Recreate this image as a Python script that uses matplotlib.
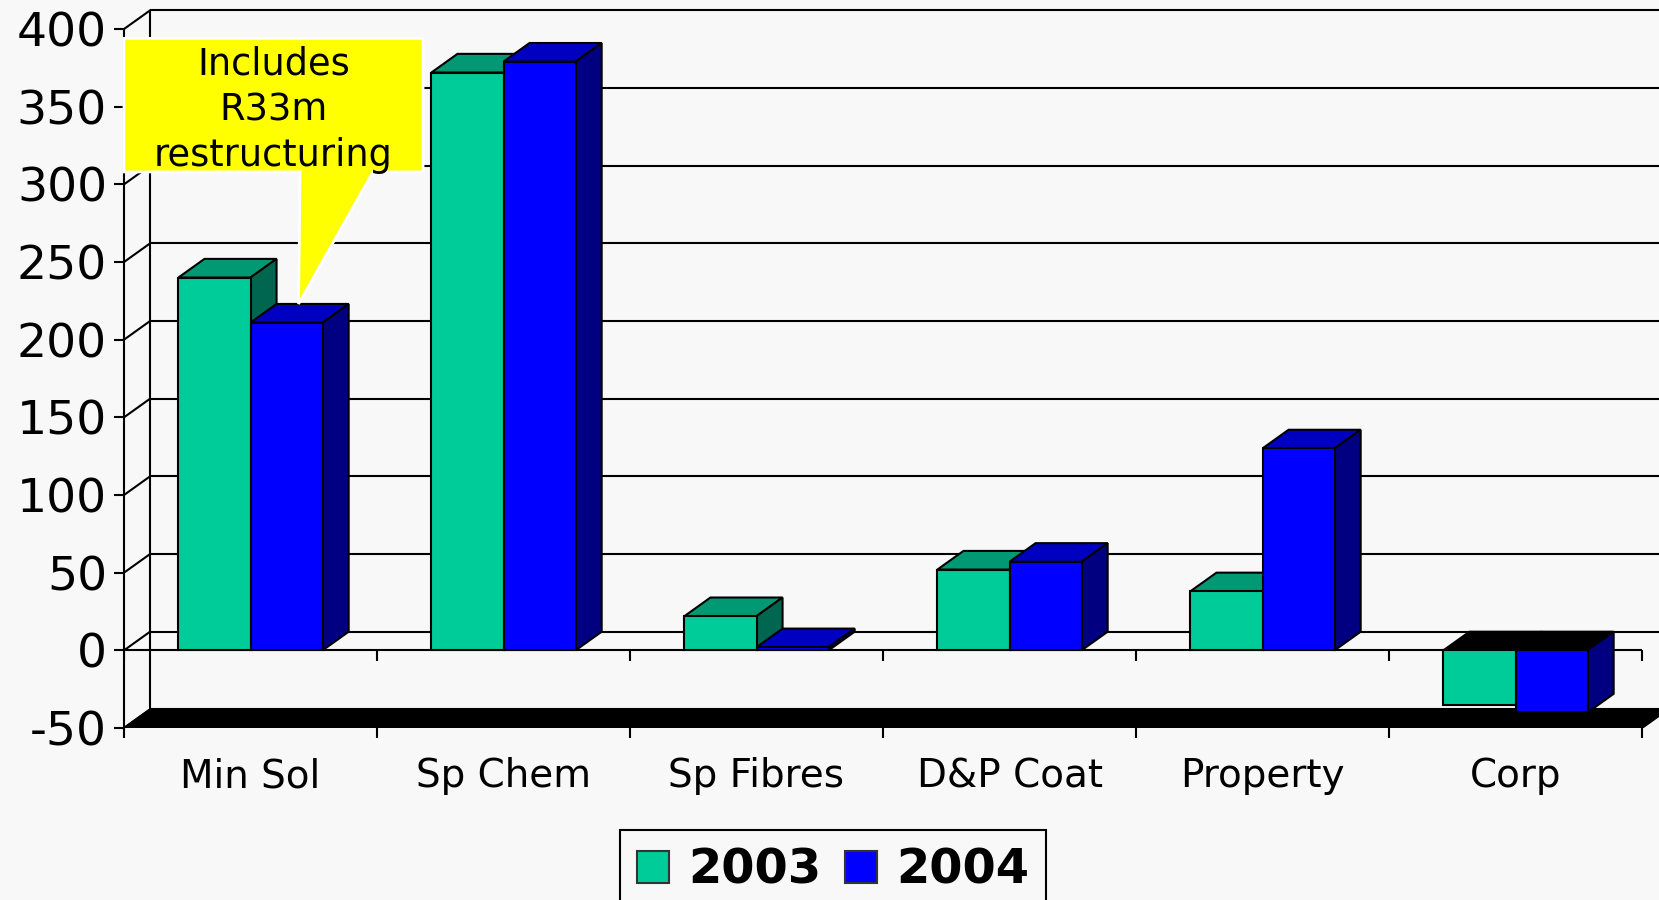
import matplotlib.pyplot as plt
import numpy as np
from matplotlib.patches import Polygon, Patch

plt.rcParams['axes.unicode_minus'] = False

# Data
cats = ['Min Sol', 'Sp Chem', 'Sp Fibres', 'D&P Coat', 'Property', 'Corp']
v2003 = [240, 372, 22, 52, 38, -35]
v2004 = [211, 379, 2, 57, 130, -40]
years = ['2003', '2004']
yticks = list(range(-50, 401, 50))
note = 'Includes\nR33m\nrestructuring'

# colours: front, top, side
c2003 = ('#00CC99', '#009973', '#006650')
c2004 = ('#0000FF', '#0000C0', '#000080')
bg = '#F8F8F8'

# depth of the fake 3D box, in data units
DX = 0.103
DY = 12
lw = 1.5

fig = plt.figure(figsize=(16.59, 9), dpi=100, facecolor=bg)
ax = fig.add_axes([124 / 1659, 172 / 900, 1535 / 1659, 726 / 900])
ax.set_facecolor(bg)
ax.set_xlim(-0.5, -0.5 + 1535 / 253)
ax.set_ylim(-50, -50 + 726 / 1.5533)

x = np.arange(len(cats))
bounds = np.arange(-0.5, len(cats), 1)
w = 0.285

# back wall, side wall and floor
for v in yticks:
    ax.plot([-0.5, -0.5 + DX], [v, v + DY], color='black', lw=lw, zorder=1)
    ax.hlines(v + DY, -0.5 + DX, 5.5 + DX, color='black', lw=lw, zorder=1)
ax.vlines(-0.5 + DX, yticks[0] + DY, yticks[-1] + DY, color='black', lw=lw, zorder=1)
ax.add_patch(Polygon([(-0.5, -50), (5.5, -50), (5.5 + DX, -50 + DY), (-0.5 + DX, -50 + DY)],
                     closed=True, fc='black', ec='black', lw=lw, zorder=1.5))

# front category axis at zero
ax.hlines(0, -0.5, 5.5, color='black', lw=lw, zorder=2)
ax.vlines(bounds, -7, 0, color='black', lw=lw, zorder=2)


def draw_series(xs, vals, cols, z):
    bars = ax.bar(xs, vals, width=w, color=cols[0], edgecolor='black', lw=lw, zorder=z + 0.5)
    for r, v in zip(bars, vals):
        x0 = r.get_x()
        x1 = x0 + r.get_width()
        top = max(v, 0)
        bot = min(v, 0)
        topc = cols[1] if v >= 0 else 'black'
        ax.add_patch(Polygon([(x0, top), (x1, top), (x1 + DX, top + DY), (x0 + DX, top + DY)],
                             closed=True, fc=topc, ec='black', lw=lw, zorder=z))
        ax.add_patch(Polygon([(x1, bot), (x1, top), (x1 + DX, top + DY), (x1 + DX, bot + DY)],
                             closed=True, fc=cols[2], ec='black', lw=lw, zorder=z))
    return bars


b1 = draw_series(x - w / 2, v2003, c2003, 3)
b2 = draw_series(x + w / 2, v2004, c2004, 4)

# axes styling
for s in ['top', 'right', 'bottom']:
    ax.spines[s].set_visible(False)
ax.spines['left'].set_bounds(-50, 400)
ax.spines['left'].set_linewidth(lw)
ax.spines['left'].set_zorder(2)
ax.set_yticks(yticks)
ax.tick_params(axis='y', length=7.2, width=lw, pad=5, labelsize=34)
ax.set_xticks(bounds)
ax.set_xticklabels([])
ax.set_xticks(x, minor=True)
ax.set_xticklabels(cats, minor=True)
ax.tick_params(axis='x', which='major', length=7.2, width=lw)
ax.tick_params(axis='x', which='minor', length=0, pad=21, labelsize=28)

# callout
r = b2[0]
tip = (r.get_x() + 0.19, v2004[0] + DY)
bx0, bx1, by0, by1 = -0.5, 0.682, 308, 394
ax.add_patch(Polygon([(bx0, by1), (bx1, by1), (bx1, by0), (0.484, by0), tip, (0.196, by0), (bx0, by0)],
                     closed=True, fc='#FFFF00', ec='white', lw=2, zorder=10, clip_on=False))
ax.text((bx0 + bx1) / 2, (by0 + by1) / 2 - 3, note, ha='center', va='center', fontsize=26.5,
        linespacing=1.3, zorder=11)

# legend
handles = [Patch(fc=c2003[0], ec='#333333', lw=1.5), Patch(fc=c2004[0], ec='#333333', lw=1.5)]
leg = fig.legend(handles, years, loc='upper center', bbox_to_anchor=(833 / 1659, 1 - 830 / 900),
                 ncol=2, prop={'weight': 'bold', 'size': 34.5}, frameon=True, fancybox=False,
                 edgecolor='black', facecolor=bg, framealpha=1, handlelength=0.67,
                 handleheight=0.67, handletextpad=0.4, columnspacing=0.5, borderpad=0.35,
                 borderaxespad=0)
leg.get_frame().set_linewidth(1.5)

fig.savefig('out.png', dpi=100, facecolor=bg)
